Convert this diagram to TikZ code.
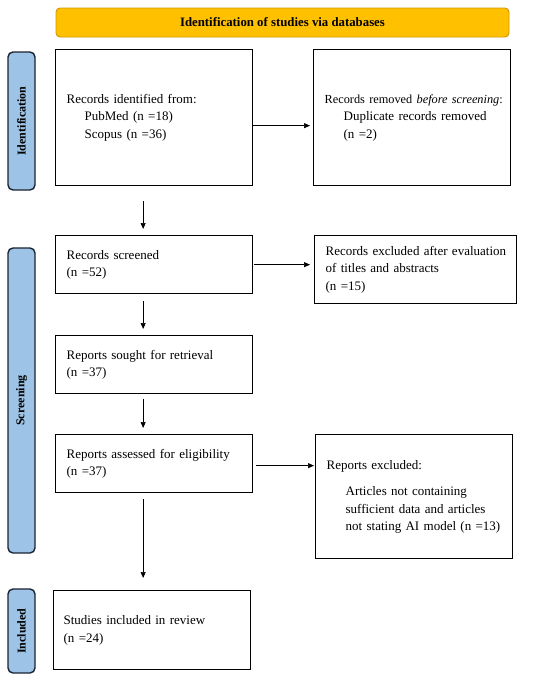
\documentclass[tikz,border=0pt]{standalone}
\usepackage{fontspec}
\setmainfont{Liberation Serif}
\usetikzlibrary{arrows.meta}
\definecolor{bannerfill}{RGB}{255,192,0}
\definecolor{bannerdraw}{RGB}{205,150,0}
\definecolor{sidefill}{RGB}{157,195,230}
\definecolor{sidedraw}{RGB}{25,35,50}
\begin{document}
\begin{tikzpicture}[x=1pt,y=-1pt,
  box/.style={draw=black,line width=1.3pt,align=left,anchor=north west,inner xsep=11pt,inner ysep=0pt,
    font=\fontsize{13}{17.5}\selectfont},
  side/.style={draw=sidedraw,fill=sidefill,line width=1.4pt,rounded corners=5pt,rotate=90,
    minimum height=27pt,inner sep=0pt,font=\fontsize{12}{14}\selectfont\bfseries},
  arr/.style={line width=0.7pt,-{Triangle[length=6pt,width=5pt]}}]
\useasboundingbox (0,0) rectangle (550,681);
% banner
\node[draw=bannerdraw,fill=bannerfill,line width=0.9pt,rounded corners=4pt,minimum width=453pt,minimum height=29pt,
  inner sep=0pt,font=\fontsize{12.8}{14}\selectfont\bfseries] (ban) at (282.5,22.5) {Identification of studies via databases};
% side labels
\node[side,minimum width=138pt] (sid) at (21.5,121) {Identification};
\node[side,minimum width=305pt] (ssc) at (21.5,400.5) {Screening};
\node[side,minimum width=84pt] (sin) at (21.5,631) {Included};
% boxes
\node[box,text width=175pt,minimum height=136pt] (b1) at (55,49) {Records identified from:\\
  \hspace*{18pt}PubMed (n =18)\\ \hspace*{18pt}Scopus (n =36)};
\node[box,text width=175pt,minimum height=136pt] (b2) at (313,49) {\mbox{\fontsize{12.3}{17.5}\selectfont Records removed \textit{before screening}:}\\
  \hspace*{19pt}Duplicate records removed\\ \hspace*{19pt}(n =2)};
\node[box,text width=175pt,minimum height=58pt] (b3) at (55,235) {Records screened\\(n =52)};
\node[box,text width=180pt,minimum height=68pt] (b4) at (314,235) {\mbox{Records excluded after evaluation}\\of titles and abstracts\\(n =15)};
\node[box,text width=175pt,minimum height=58pt] (b5) at (55,335) {Reports sought for retrieval\\(n =37)};
\node[box,text width=175pt,minimum height=58pt] (b6) at (55,434) {Reports assessed for eligibility\\(n =37)};
\node[box,text width=175pt,minimum height=124pt] (b7) at (315,434) {Reports excluded:\\[9pt]
  \hspace*{19pt}Articles not containing\\ \hspace*{19pt}sufficient data and articles\\ \hspace*{19pt}\mbox{not stating AI model (n =13)}};
\node[box,text width=177pt,minimum height=79pt,inner xsep=10pt] (b8) at (53,590) {Studies included in review\\(n =24)};
% arrows
\draw[arr,shorten <=15pt,shorten >=6pt] ([xshift=-11pt]b1.south) -- ([xshift=-11pt]b1.south |- b3.north);
\draw[arr,shorten <=7pt,shorten >=6pt] ([xshift=-11pt]b3.south) -- ([xshift=-11pt]b3.south |- b5.north);
\draw[arr,shorten <=5pt,shorten >=6pt] ([xshift=-11pt]b5.south) -- ([xshift=-11pt]b5.south |- b6.north);
\draw[arr,shorten <=6pt,shorten >=12pt] ([xshift=-11pt]b6.south) -- ([xshift=-11pt]b6.south |- b8.north);
\draw[arr,shorten >=3pt] ([yshift=-8pt]b1.east) -- ([yshift=-8pt]b1.east -| b2.west);
\draw[arr,shorten <=1pt,shorten >=4pt] (b3.east) -- (b3.east -| b4.west);
\draw[arr,shorten <=3pt,shorten >=1pt] ([yshift=-2pt]b6.east) -- ([yshift=-2pt]b6.east -| b7.west);
\end{tikzpicture}
\end{document}
